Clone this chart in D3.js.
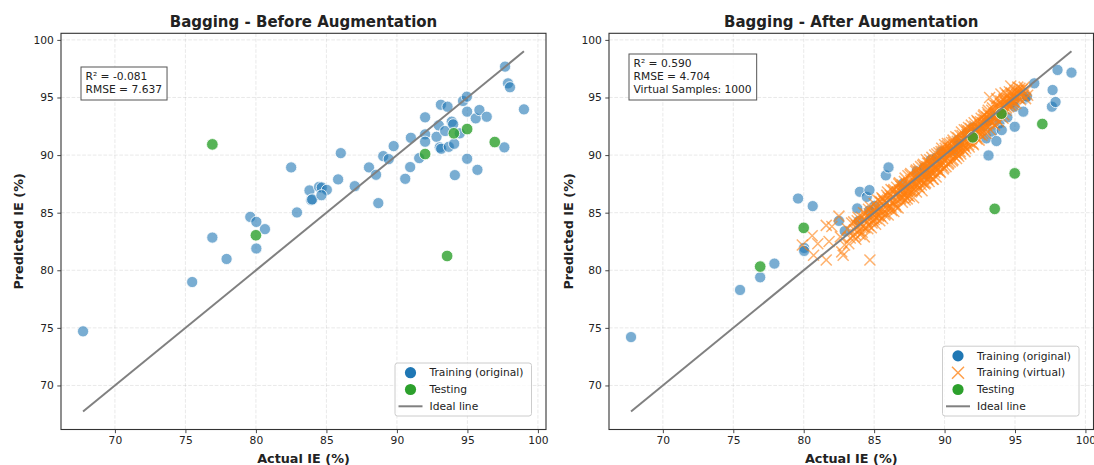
<!DOCTYPE html>
<html lang="en">
<head>
<meta charset="UTF-8">
<title>Bagging - Before / After Augmentation</title>
<script src="https://cdn.jsdelivr.net/npm/d3@7/dist/d3.min.js"></script>
<style>
  body { margin: 0; background: #fff; }
  svg text { font-family: "DejaVu Sans", sans-serif; fill: #222; }
</style>
</head>
<body>
<svg width="1094" height="465"></svg>
<script>
// ---- data ----
// training set (original samples): actual IE, prediction before / after augmentation
const trainActual = [67.74, 75.48, 76.91, 77.92, 79.60, 80.03, 80.64, 80.03, 82.50, 82.91,
  83.80, 83.92, 83.99, 84.48, 84.67, 85.03, 84.65, 85.83, 86.02, 87.01,
  88.02, 88.52, 88.68, 89.03, 89.42, 89.77, 90.59, 90.94, 90.99, 91.58,
  92.00, 92.00, 92.00, 92.81, 92.97, 93.12, 93.04, 93.14, 93.42, 93.59,
  93.68, 93.89, 93.99, 94.06, 94.11, 94.46, 94.69, 94.96, 94.98, 94.98,
  95.59, 95.71, 95.85, 96.37, 97.62, 97.67, 97.88, 98.02, 99.01];
const trainPredBefore = [74.70, 78.98, 82.84, 80.98, 84.63, 84.20, 83.57, 81.89, 88.93, 85.02,
  86.93, 86.09, 86.15, 87.24, 87.19, 86.98, 86.52, 87.89, 90.17, 87.30,
  88.93, 88.29, 85.83, 89.91, 89.65, 90.78, 87.94, 88.96, 91.50, 89.74,
  93.28, 91.80, 91.16, 91.59, 92.58, 94.37, 90.67, 90.55, 92.09, 94.20,
  90.72, 92.90, 92.67, 90.98, 88.26, 91.89, 94.70, 95.07, 93.77, 89.68,
  93.19, 88.72, 93.91, 93.33, 90.67, 97.68, 96.23, 95.89, 93.97];
const trainPredAfter = [74.20, 78.29, 79.39, 80.58, 86.23, 81.94, 85.57, 81.68, 84.29, 83.40,
  85.37, 84.30, 86.81, 86.37, 86.96, 85.60, 85.20, 88.24, 88.93, 87.50,
  88.60, 88.90, 88.30, 89.60, 89.80, 90.30, 90.40, 91.30, 91.00, 91.90,
  92.40, 91.60, 92.00, 92.50, 91.45, 89.97, 92.90, 93.00, 92.03, 93.40,
  91.22, 92.75, 93.60, 92.17, 93.80, 93.28, 94.50, 94.80, 92.46, 94.20,
  93.77, 94.90, 95.07, 96.23, 94.20, 95.65, 94.61, 97.39, 97.16];

// testing set
const testActual = [76.91, 80.00, 92.00, 94.04, 94.98, 96.94, 93.56];
const testPredBefore = [90.93, 83.04, 90.09, 91.89, 92.26, 91.13, 81.24];
const testPredAfter = [80.32, 83.68, 91.54, 93.59, 88.41, 92.70, 85.33];

// virtual training samples [actual, predicted] (a readable subset of the dense band)
const virtualPoints = [
  [79.9,82.2],[80.6,83.0],[80.7,81.3],[81.0,82.3],[81.6,83.9],[81.6,80.9],[81.8,82.5],[82.0,83.8],
  [82.5,84.7],[82.7,81.6],[82.8,81.3],[83.2,82.3],[84.7,80.9],
  [82.6,82.9],[82.9,82.2],[83.1,83.6],[83.3,82.8],[83.4,84.1],[83.5,83.0],
  [83.6,83.5],[83.7,82.7],[83.8,84.3],[83.9,83.9],[84.0,83.1],[84.1,84.6],[84.2,83.8],[84.3,82.9],[84.4,84.9],[84.5,84.2],
  [84.6,83.9],[84.6,85.3],[84.7,84.6],[84.8,83.7],[84.9,85.1],[85.0,84.4],[85.0,85.8],[85.1,84.0],[85.2,85.4],[85.3,84.7],[85.4,86.0],[85.4,84.3],
  [85.5,85.1],[85.6,84.5],[85.6,86.2],[85.7,85.6],[85.8,84.9],[85.9,86.5],[85.9,85.3],[86.0,84.8],[86.1,86.0],[86.2,85.5],[86.2,87.0],[86.3,85.9],[86.4,85.1],[86.5,86.6],
  [86.5,85.7],[86.6,87.2],[86.6,86.1],[86.7,85.4],[86.8,86.9],[86.8,87.6],[86.9,86.3],[87.0,85.9],[87.0,87.4],[87.1,86.6],[87.2,88.0],[87.2,86.1],[87.3,87.1],[87.4,86.5],[87.4,88.2],[87.5,87.0],
  [87.5,86.4],[87.6,87.8],[87.6,88.4],[87.7,86.9],[87.7,87.5],[87.8,86.3],[87.9,88.1],[87.9,87.3],[88.0,88.7],[88.0,86.8],[88.1,87.7],[88.1,88.3],[88.2,87.2],[88.3,89.0],[88.3,87.8],[88.4,86.9],[88.4,88.5],[88.5,87.6],
  [88.5,89.2],[88.6,88.1],[88.6,87.5],[88.7,88.8],[88.7,89.6],[88.8,87.9],[88.8,88.4],[88.9,89.3],[88.9,87.7],[89.0,88.9],[89.0,88.2],[89.1,89.8],[89.1,88.6],[89.2,87.9],[89.2,89.4],[89.3,88.5],[89.3,90.0],[89.4,89.0],[89.4,88.1],[89.5,89.6],
  [89.5,88.7],[89.6,90.2],[89.6,89.3],[89.7,88.5],[89.7,89.9],[89.8,90.6],[89.8,89.1],[89.9,88.8],[89.9,90.3],[90.0,89.5],[90.0,90.9],[90.1,89.0],[90.1,90.4],[90.2,89.7],[90.2,91.0],[90.3,89.3],[90.3,90.6],[90.4,90.0],[90.4,89.4],[90.5,91.1],
  [90.5,90.2],[90.6,89.6],[90.6,91.3],[90.7,90.5],[90.7,89.9],[90.8,91.6],[90.8,90.8],[90.9,90.1],[90.9,91.2],[91.0,89.9],[91.0,90.6],[91.1,91.7],[91.1,90.3],[91.2,91.0],[91.2,92.0],[91.3,90.5],[91.3,91.4],[91.4,90.8],[91.4,92.2],[91.5,91.2],
  [91.5,90.6],[91.6,92.0],[91.6,91.5],[91.7,90.9],[91.7,92.4],[91.8,91.8],[91.8,91.1],[91.9,92.6],[91.9,91.4],[92.0,92.1],[92.0,91.0],[92.1,92.8],[92.1,91.7],[92.2,92.3],[92.3,91.4],[92.3,93.0],[92.4,92.0],[92.5,92.6],
  [92.5,91.8],[92.6,93.2],[92.6,92.3],[92.7,91.9],[92.8,93.5],[92.8,92.7],[92.9,92.2],[93.0,93.3],[93.0,92.6],[93.1,93.9],[93.2,92.9],[93.2,95.0],[93.3,93.4],[93.4,92.8],[93.4,94.1],[93.5,93.2],
  [93.5,94.4],[93.6,93.7],[93.7,94.9],[93.7,93.1],[93.8,94.2],[93.9,93.6],[94.0,94.7],[94.0,95.3],[94.1,94.0],[94.2,93.5],[94.3,94.6],[94.3,95.4],[94.4,94.1],[94.5,94.9],
  [94.6,95.5],[94.7,94.3],[94.7,96.0],[94.8,95.1],[94.9,94.6],[95.0,95.6],[95.1,95.0],[95.2,95.9],[95.3,95.3],[95.4,94.8],
  [95.5,95.7],[95.6,95.2],[95.8,95.6],[95.9,95.2],
  [84.3,84.5],[84.8,85.0],[85.2,84.9],[85.7,86.0],[86.0,86.3],[86.3,86.4],[86.7,86.6],[87.0,86.8],[87.3,87.5],[87.6,87.3],
  [87.9,88.0],[88.1,88.0],[88.4,88.2],[88.6,88.9],[88.9,88.7],[89.1,89.2],[89.4,89.5],[89.6,89.7],[89.9,89.8],[90.1,90.3],
  [90.3,90.1],[90.6,90.7],[90.9,90.8],[91.1,91.2],[91.3,91.1],[91.6,91.8],[91.9,91.7],[92.1,92.2],[92.4,92.3],[92.7,92.8],
  [92.9,93.0],[93.2,93.1],[93.5,93.6],[93.8,93.9],[94.1,94.3],[94.4,94.5],[94.8,94.7],[95.1,95.3],
  [84.9,84.3],[85.5,85.9],[86.1,85.6],[86.9,87.3],[87.4,86.9],[88.2,88.6],[88.7,88.2],[89.2,88.9],[89.8,90.1],[90.4,90.6],
  [90.8,90.4],[91.5,91.6],[92.2,91.9],[92.8,93.1],[93.3,92.9],[93.9,94.2],[94.6,94.4],[95.3,95.6],
  [86.4,87.0],[87.2,86.5],[88.0,87.5],[88.8,89.3],[89.5,88.9],[90.2,90.8],[91.0,90.6],[91.7,92.1],[92.5,92.2],[93.1,93.5],
  [93.6,93.3],[94.2,94.8],[95.0,94.9],
  [83.55,84.2],[83.65,83.1],[83.75,83.9],[83.85,84.6],[83.95,83.4],[84.05,84.0],[84.15,83.3],[84.25,85.0],[84.35,83.7],[84.45,84.6],
  [84.55,83.6],[84.65,84.9],[84.75,85.5],[84.85,84.1],[84.95,84.8],[85.05,85.3],[85.15,84.5],[85.25,86.1],[85.35,85.1],[85.45,84.7],
  [85.55,86.3],[85.65,85.3],[85.75,84.8],[85.85,85.9],[85.95,86.8],[86.05,85.4],[86.15,86.5],[86.25,85.2],[86.35,86.9],[86.45,86.0],
  [86.55,85.5],[86.65,86.8],[86.75,87.5],[86.85,86.2],[86.95,87.0],[87.05,86.3],[87.15,87.7],[87.25,86.9],[87.35,86.2],[87.45,87.6],
  [87.55,88.3],[87.65,86.8],[87.75,87.9],[87.85,87.1],[87.95,88.6],[88.05,87.3],[88.15,88.8],[88.25,88.0],[88.35,87.4],[88.45,89.1],
  [88.55,88.4],[88.65,87.6],[88.75,89.0],[88.85,88.2],[88.95,89.6],[89.05,88.5],[89.15,87.9],[89.25,89.5],[89.35,88.8],[89.45,90.1],
  [89.55,89.1],[89.65,88.6],[89.75,90.3],[89.85,89.4],[89.95,88.9],[90.05,90.6],[90.15,89.8],[90.25,89.2],[90.35,91.0],[90.45,90.3],
  [90.55,89.5],[90.65,91.1],[90.75,90.2],[90.85,89.7],[90.95,91.5],[91.05,90.9],[91.15,90.1],[91.25,91.7],[91.35,90.8],[91.45,90.3],
  [91.55,92.2],[91.65,91.2],[91.75,90.7],[91.85,92.3],[91.95,91.5],[92.05,90.9],[92.15,92.5],[92.25,91.6],[92.35,92.9],[92.45,91.3],
  [92.55,92.9],[92.65,91.7],[92.75,93.4],[92.85,92.4],[92.95,91.9],[93.05,93.7],[93.15,92.7],[93.25,92.2],[93.35,93.9],[93.45,93.0],
  [93.55,92.6],[93.65,94.3],[93.75,93.5],[93.85,92.9],[93.95,94.5],[94.05,93.8],[94.15,93.2],[94.25,94.9],[94.35,93.9],[94.45,95.2],
  [94.55,94.2],[94.65,94.8],[94.75,95.4],[94.85,94.4],[94.95,95.2],[95.05,94.5],[95.15,95.6],[95.25,95.0],[95.35,95.8],[95.45,95.3],
  [95.65,95.9],[95.75,94.9]
];

const tickValues = [70, 75, 80, 85, 90, 95, 100];
const statsBefore = ['R\u00b2 = -0.081', 'RMSE = 7.637'];
const statsAfter = ['R\u00b2 = 0.590', 'RMSE = 4.704', 'Virtual Samples: 1000'];

// ---- layout ----
const svg = d3.select('svg');
const plotTop = 33.3, plotBottom = 429.5;
const blue = '#1f77b4', orange = '#ff7f0e', green = '#2ca02c', lineGray = '#808080';

const panels = [
  {left: 61, right: 546, title: 'Bagging - Before Augmentation',
   trainPred: trainPredBefore, testPred: testPredBefore, virtual: null,
   stats: statsBefore, ylabelX: 22.5},
  {left: 609, right: 1093.5, title: 'Bagging - After Augmentation',
   trainPred: trainPredAfter, testPred: testPredAfter, virtual: virtualPoints,
   stats: statsAfter, ylabelX: 572.5}
];

const allActual = trainActual.concat(testActual);
const lineLo = d3.min(allActual), lineHi = d3.max(allActual);

function padded(ext) {
  const m = (ext[1] - ext[0]) * 0.05;
  return [ext[0] - m, ext[1] + m];
}

panels.forEach(function(p) {
  const xs = allActual.slice(), ys = p.trainPred.concat(p.testPred, [lineLo, lineHi]);
  if (p.virtual) p.virtual.forEach(function(d) { xs.push(d[0]); ys.push(d[1]); });
  const x = d3.scaleLinear().domain(padded(d3.extent(xs))).range([p.left, p.right]);
  const y = d3.scaleLinear().domain(padded(d3.extent(ys))).range([plotBottom, plotTop]);

  const g = svg.append('g');

  // grid
  g.append('g').selectAll('line.vx').data(tickValues).enter().append('line')
    .attr('x1', d => x(d)).attr('x2', d => x(d))
    .attr('y1', plotTop).attr('y2', plotBottom)
    .attr('stroke', '#b0b0b0').attr('stroke-opacity', 0.35)
    .attr('stroke-width', 0.8).attr('stroke-dasharray', '3.7,1.6');
  g.append('g').selectAll('line.hy').data(tickValues).enter().append('line')
    .attr('y1', d => y(d)).attr('y2', d => y(d))
    .attr('x1', p.left).attr('x2', p.right)
    .attr('stroke', '#b0b0b0').attr('stroke-opacity', 0.35)
    .attr('stroke-width', 0.8).attr('stroke-dasharray', '3.7,1.6');

  // training (original)
  g.append('g').selectAll('circle').data(trainActual).enter().append('circle')
    .attr('cx', d => x(d)).attr('cy', (d, i) => y(p.trainPred[i])).attr('r', 5.6)
    .attr('fill', blue).attr('fill-opacity', 0.6)
    .attr('stroke', '#fff').attr('stroke-width', 0.8);

  // virtual samples
  if (p.virtual) {
    g.append('g').selectAll('path').data(p.virtual).enter().append('path')
      .attr('transform', d => 'translate(' + x(d[0]) + ',' + y(d[1]) + ')')
      .attr('d', 'M-5.5,-5.5L5.5,5.5M-5.5,5.5L5.5,-5.5')
      .attr('stroke', orange).attr('stroke-opacity', 0.6).attr('stroke-width', 1.5)
      .attr('fill', 'none');
  }

  // testing
  g.append('g').selectAll('circle').data(testActual).enter().append('circle')
    .attr('cx', d => x(d)).attr('cy', (d, i) => y(p.testPred[i])).attr('r', 5.8)
    .attr('fill', green).attr('fill-opacity', 0.8)
    .attr('stroke', '#fff').attr('stroke-width', 0.8);

  // ideal line
  g.append('line')
    .attr('x1', x(lineLo)).attr('y1', y(lineLo))
    .attr('x2', x(lineHi)).attr('y2', y(lineHi))
    .attr('stroke', lineGray).attr('stroke-width', 2);

  // axes
  const xAxis = g.append('g').attr('transform', 'translate(0,' + plotBottom + ')')
    .call(d3.axisBottom(x).tickValues(tickValues).tickSize(3.7).tickSizeOuter(0).tickPadding(3.5));
  const yAxis = g.append('g').attr('transform', 'translate(' + p.left + ',0)')
    .call(d3.axisLeft(y).tickValues(tickValues).tickSize(3.7).tickSizeOuter(0).tickPadding(3.5));
  [xAxis, yAxis].forEach(function(a) {
    a.select('.domain').remove();
    a.selectAll('line').attr('stroke', '#333').attr('stroke-width', 0.9);
    a.selectAll('text').attr('font-size', 10.7).attr('fill', '#222')
      .style('font-family', '"DejaVu Sans", sans-serif');
  });

  // frame
  g.append('rect').attr('x', p.left).attr('y', plotTop)
    .attr('width', p.right - p.left).attr('height', plotBottom - plotTop)
    .attr('fill', 'none').attr('stroke', '#333').attr('stroke-width', 1.1);

  // title and axis labels
  const cx = (p.left + p.right) / 2;
  g.append('text').attr('x', cx).attr('y', 27).attr('text-anchor', 'middle')
    .attr('font-size', 15).attr('font-weight', 'bold').text(p.title);
  g.append('text').attr('x', cx).attr('y', 463).attr('text-anchor', 'middle')
    .attr('font-size', 12.8).attr('font-weight', 'bold').text('Actual IE (%)');
  g.append('text')
    .attr('transform', 'translate(' + p.ylabelX + ',' + ((plotTop + plotBottom) / 2) + ') rotate(-90)')
    .attr('text-anchor', 'middle').attr('font-size', 12.8).attr('font-weight', 'bold')
    .text('Predicted IE (%)');

  // stats box
  const tx = p.left + 24.5, lastY = 89, step = 13;
  const firstY = lastY - step * (p.stats.length - 1);
  const box = g.append('rect');
  const st = g.append('g');
  p.stats.forEach(function(s, i) {
    st.append('text').attr('x', tx).attr('y', firstY + i * step).attr('dy', '0.35em')
      .attr('font-size', 10.7).text(s);
  });
  let wmax = 0;
  st.selectAll('text').each(function() { wmax = Math.max(wmax, this.getComputedTextLength()); });
  box.attr('x', tx - 4.5).attr('y', firstY - 9).attr('width', wmax + 9.5)
    .attr('height', lastY - firstY + 20)
    .attr('fill', '#fff').attr('fill-opacity', 0.8)
    .attr('stroke', '#555').attr('stroke-width', 1);

  // legend
  const entries = [{label: 'Training (original)', type: 'circle', color: blue}];
  if (p.virtual) entries.push({label: 'Training (virtual)', type: 'cross', color: orange});
  entries.push({label: 'Testing', type: 'circle', color: green});
  entries.push({label: 'Ideal line', type: 'line', color: lineGray});
  const rowH = 16.8, lw = 136.5, lh = entries.length * rowH + 2.6;
  const lx = p.right - 14.5 - lw, ly = plotBottom - 13.5 - lh;
  const leg = g.append('g').attr('transform', 'translate(' + lx + ',' + ly + ')');
  leg.append('rect').attr('width', lw).attr('height', lh).attr('rx', 2.5)
    .attr('fill', '#fff').attr('fill-opacity', 0.8)
    .attr('stroke', '#cccccc').attr('stroke-width', 1);
  entries.forEach(function(e, i) {
    const ey = 8.4 + 1.3 + i * rowH;
    if (e.type === 'circle') {
      leg.append('circle').attr('cx', 15.5).attr('cy', ey).attr('r', 5.6).attr('fill', e.color);
    } else if (e.type === 'cross') {
      leg.append('path').attr('transform', 'translate(15.5,' + ey + ')')
        .attr('d', 'M-6,-6L6,6M-6,6L6,-6').attr('stroke', e.color)
        .attr('stroke-opacity', 0.75).attr('stroke-width', 1.5);
    } else {
      leg.append('line').attr('x1', 3.5).attr('x2', 27.5).attr('y1', ey).attr('y2', ey)
        .attr('stroke', e.color).attr('stroke-width', 2);
    }
    leg.append('text').attr('x', 34.5).attr('y', ey).attr('dy', '0.35em')
      .attr('font-size', 10.7).text(e.label);
  });
});
</script>
</body>
</html>
